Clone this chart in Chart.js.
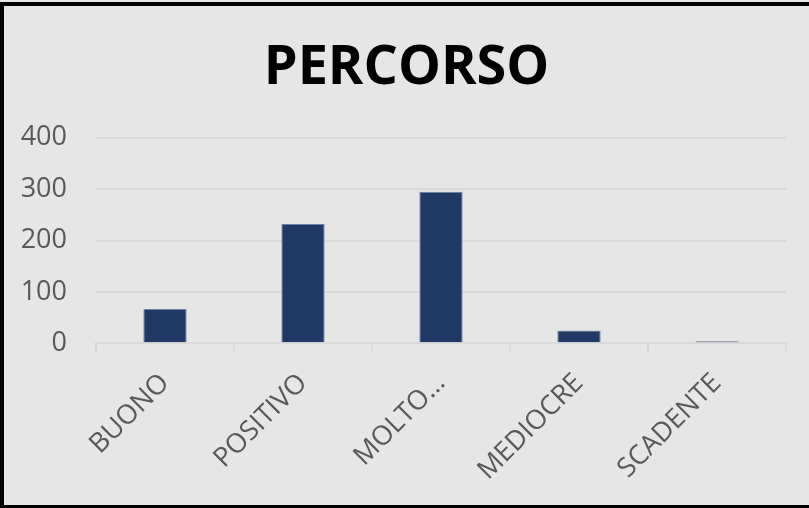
<!DOCTYPE html>
<html>
<head>
<meta charset="utf-8">
<script src="https://cdn.jsdelivr.net/npm/chart.js@4.4.0/dist/chart.umd.min.js"></script>
<style>
  html, body { margin: 0; padding: 0; background: #e7e6e6; }
  #frame {
    position: absolute; left: 0; top: 2px;
    width: 805px; height: 499px;
    border-left: 4px solid #000; border-top: 4px solid #000; border-bottom: 3px solid #000;
    background: #e7e6e6;
  }
  canvas { display: block; }
</style>
</head>
<body>
<div id="frame"><canvas id="chart" width="805" height="499"></canvas></div>
<script>
// data
const categories = ['BUONO', 'POSITIVO', 'MOLTO…', 'MEDIOCRE', 'SCADENTE'];
const values = [67, 232, 295, 25, 4];
const yTicks = [0, 100, 200, 300, 400];

const gridColor = '#d9d9d9';
const textColor = '#595959';

const ctx = document.getElementById('chart').getContext('2d');
new Chart(ctx, {
  type: 'bar',
  data: {
    labels: categories,
    datasets: [{
      data: values,
      backgroundColor: '#203864',
      borderColor: '#6f82a6',
      borderWidth: 1,
      barPercentage: 0.314,
      categoryPercentage: 1
    }]
  },
  options: {
    responsive: false,
    animation: false,
    layout: { padding: 0 },
    plugins: {
      legend: { display: false },
      tooltip: { enabled: false },
      title: {
        display: true,
        text: 'PERCORSO',
        color: '#000',
        font: { family: 'Open Sans', size: 54, weight: 'bold' },
        padding: { top: 30, bottom: 37 }
      }
    },
    scales: {
      x: {
        offset: true,
        grid: { offset: true, drawOnChartArea: false, drawTicks: true, tickLength: 8, color: gridColor, lineWidth: 2 },
        border: { display: true, color: gridColor, width: 2 },
        ticks: {
          color: textColor,
          font: { family: 'Open Sans', size: 27 },
          minRotation: 45, maxRotation: 45,
          padding: 16
        },
        afterFit: s => { s.height = 161.7; }
      },
      y: {
        min: 0, max: 400,
        afterBuildTicks: s => { s.ticks = yTicks.map(v => ({ value: v })); },
        grid: { color: gridColor, lineWidth: 2, drawTicks: false },
        border: { display: false },
        ticks: {
          color: textColor,
          font: { family: 'Open Sans', size: 27 },
          padding: 29
        },
        afterFit: s => { s.width = 92; }
      },
      // empty right axis only to keep the right margin
      yRight: {
        position: 'right',
        display: true,
        grid: { display: false, drawTicks: false },
        border: { display: false },
        ticks: { display: false },
        afterFit: s => { s.width = 23; }
      }
    }
  }
});
</script>
</body>
</html>
